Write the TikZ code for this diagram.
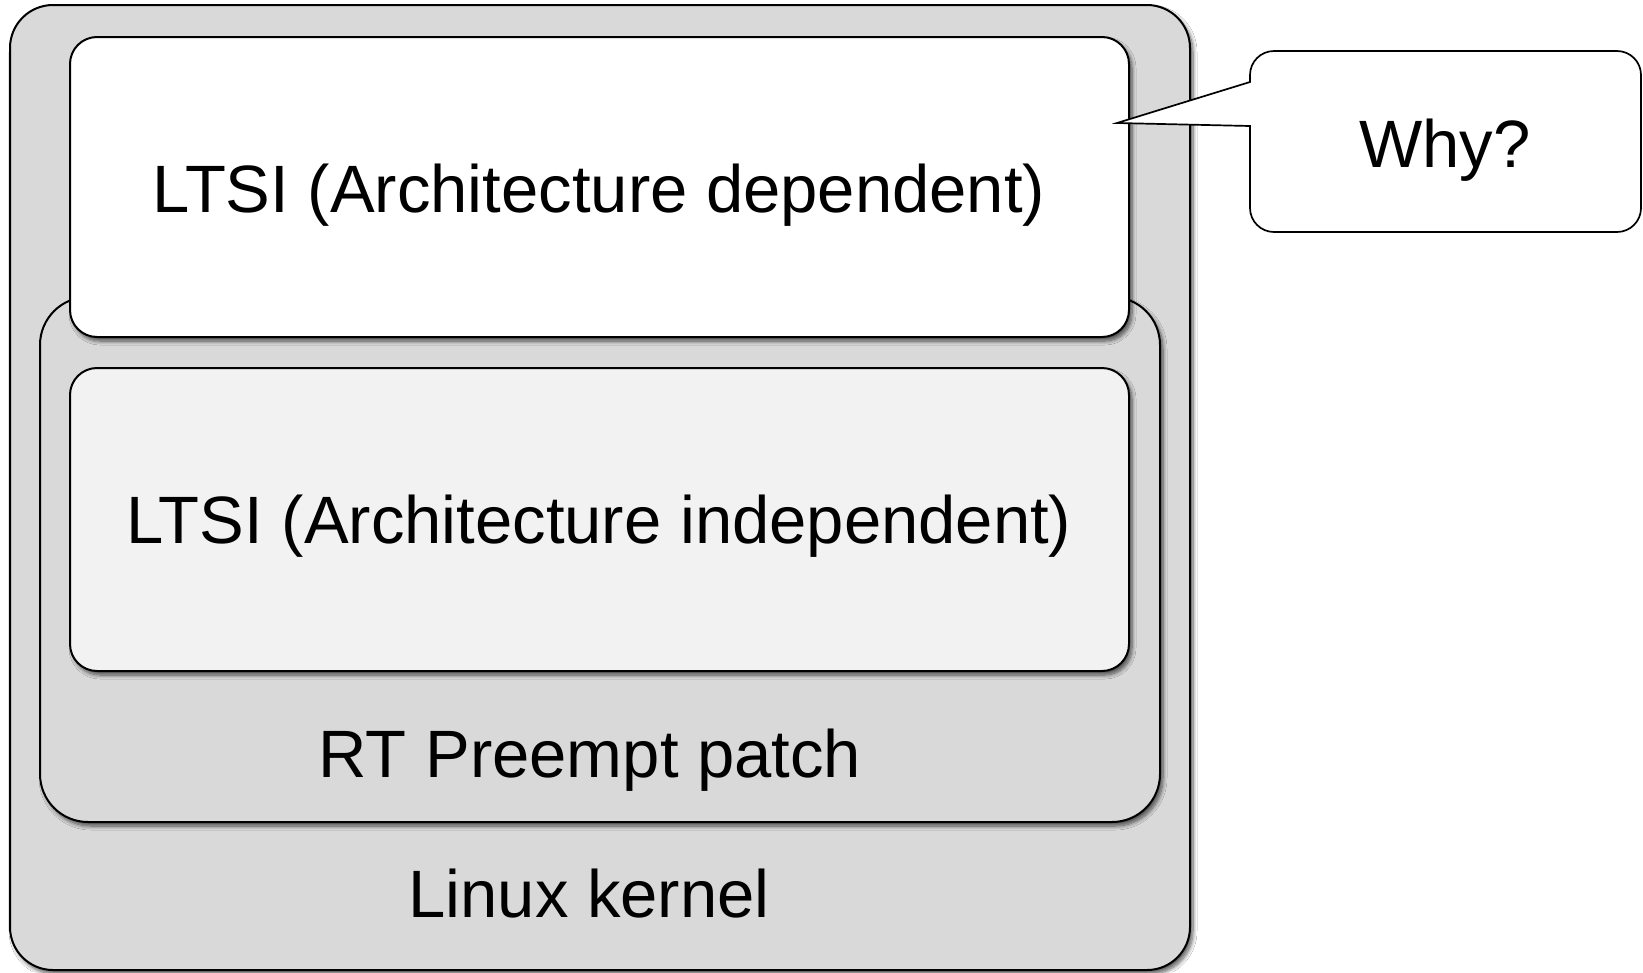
\documentclass[tikz,border=0pt]{standalone}
\usepackage{fontspec}
\setmainfont{Liberation Sans}
\usetikzlibrary{shadows.blur}
\definecolor{kgrey}{HTML}{D9D9D9}
\definecolor{lgrey}{HTML}{F2F2F2}
\tikzset{
  layerbox/.style={draw=black, line width=2pt, inner sep=0pt, rectangle,
    blur shadow={shadow xshift=3pt, shadow yshift=-4pt, shadow blur radius=4pt,
      shadow blur steps=8, shadow opacity=65}},
  label66/.style={font=\fontsize{67}{80}\selectfont, inner sep=0pt, anchor=base},
  calloutline/.style={draw=black, line width=1.7pt, fill=white, line join=miter}
}
\begin{document}
\begin{tikzpicture}[x=1pt, y=-1pt]
\useasboundingbox[fill=white] (0,0) rectangle (1643,972);
% Linux kernel (outer)
\node[layerbox, fill=kgrey, rounded corners=43pt, minimum width=1180pt, minimum height=965pt] (kernel) at (600,487.5) {};
% RT Preempt patch
\node[layerbox, fill=kgrey, rounded corners=48pt, minimum width=1120pt, minimum height=525pt] (rt) at (600,559.5) {};
% LTSI dependent
\node[layerbox, fill=white, rounded corners=27pt, minimum width=1059pt, minimum height=300pt] (dep) at (599.5,187) {};
% LTSI independent
\node[layerbox, fill=lgrey, rounded corners=27pt, minimum width=1059pt, minimum height=303pt] (indep) at (599.5,519.5) {};
% texts
\node[label66] (deptext) at (599,212) {LTSI (Architecture dependent)};
\node[label66] (indeptext) at (599,543) {LTSI (Architecture independent)};
\node[label66] (rttext) at (590,777) {RT Preempt patch};
\node[label66] (kerneltext) at (589,917) {Linux kernel};
% callout
\coordinate (tip) at (1117,123);
\draw[calloutline] (tip) -- (1250,82) -- (1250,75)
  arc[start angle=180, end angle=270, radius=24] -- (1617,51)
  arc[start angle=270, end angle=360, radius=24] -- (1641,208)
  arc[start angle=0, end angle=90, radius=24] -- (1274,232)
  arc[start angle=90, end angle=180, radius=24] -- (1250,126) -- cycle;
\node[label66] (why) at (1445,167) {Why?};
\end{tikzpicture}
\end{document}
